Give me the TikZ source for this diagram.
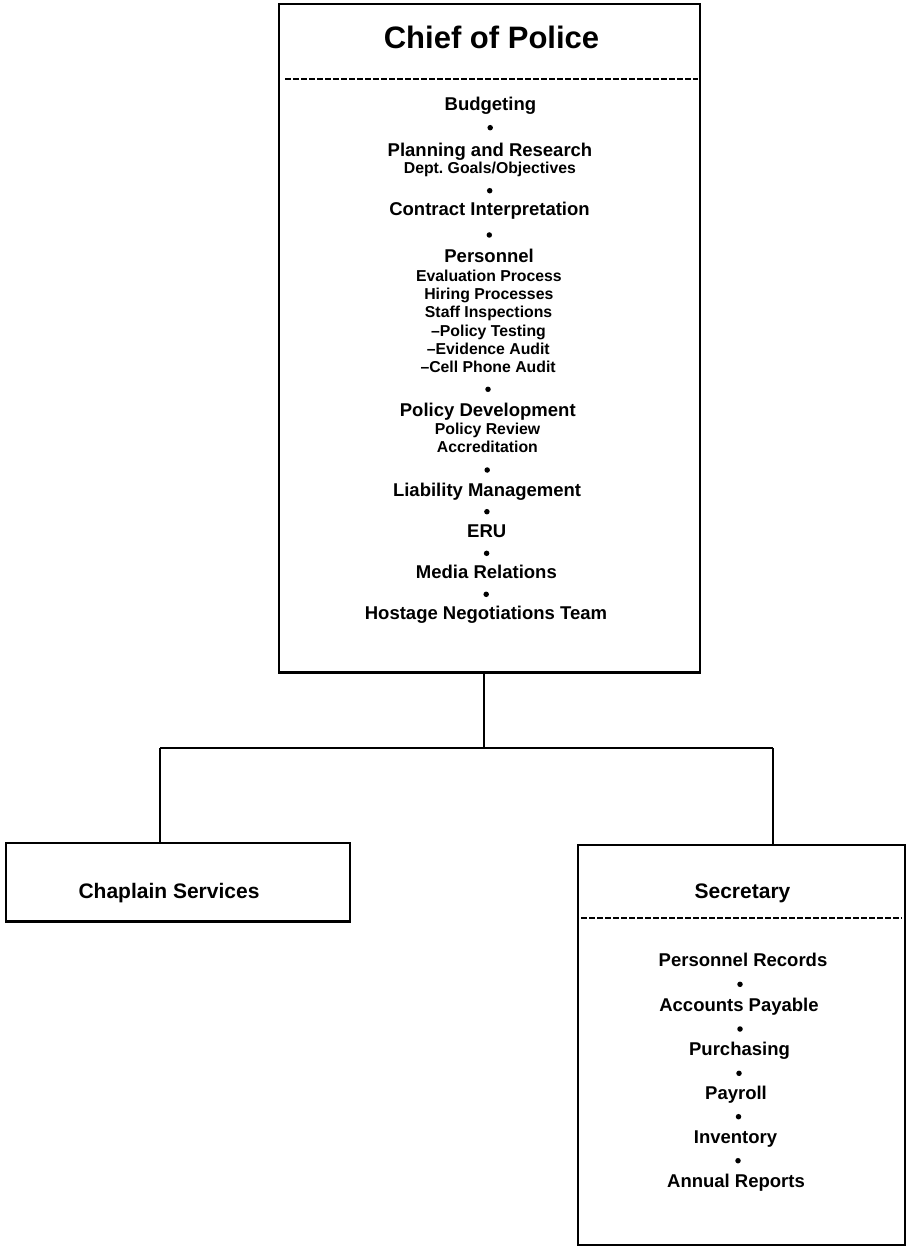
\documentclass[tikz,border=0pt]{standalone}
\usepackage{fontspec}
\setmainfont{Liberation Sans}
\begin{document}
\begin{tikzpicture}[x=1pt,y=-1pt,
  box/.style={draw, line width=2.2pt, inner sep=0pt},
  conn/.style={line width=1.6pt},
  dashline/.style={line width=2.6pt, dash pattern=on 6pt off 2pt},
  title/.style={font=\bfseries\fontsize{31}{31}\selectfont, inner sep=0pt, text height=22.2pt, text depth=0pt},
  head/.style={font=\bfseries\fontsize{21}{21}\selectfont, inner sep=0pt, text height=15pt, text depth=0pt},
  item/.style={font=\bfseries\fontsize{18.5}{18.5}\selectfont, inner sep=0pt, text height=13.25pt, text depth=0pt},
  sub/.style={font=\bfseries\fontsize{15.8}{15.8}\selectfont, inner sep=0pt, text height=11.3pt, text depth=0pt},
  dot/.style={circle, fill=black, inner sep=0pt, minimum size=5.5pt}
]
\useasboundingbox (0,0) rectangle (907,1249);

% boxes
\node[box, minimum width=421pt, minimum height=668.5pt] (chief) at (489.5,338.25) {};
\node[box, minimum width=344pt, minimum height=78.5pt] (chap) at (178,882.25) {};
\node[box, minimum width=327pt, minimum height=400pt] (sec) at (741.5,1045) {};

% dashed separators
\coordinate (d1a) at (285,79);
\coordinate (d1b) at (698,79);
\draw[dashline] (d1a) -- (d1b);
\coordinate (d2a) at (581,918);
\coordinate (d2b) at (902,918);
\draw[dashline] (d2a) -- (d2b);

% chief text
\node[title] (t0) at (491.5,37.5) {Chief of Police};
\node[item] (c1) at (490.4,104) {Budgeting};
\node[dot] (cb1) at (490.2,127.7) {};
\node[item] (c2) at (490,150) {Planning and Research};
\node[sub] (c2a) at (489.9,168) {Dept.\ Goals/Objectives};
\node[dot] (cb2) at (489.7,190.7) {};
\node[item] (c3) at (489.5,209) {Contract Interpretation};
\node[dot] (cb3) at (489.3,235) {};
\node[item] (c4) at (489.1,256) {Personnel};
\node[sub] (c4a) at (488.9,276) {Evaluation Process};
\node[sub] (c4b) at (488.8,294) {Hiring Processes};
\node[sub] (c4c) at (488.6,312) {Staff Inspections};
\node[sub] (c4d) at (488.5,330.5) {–Policy Testing};
\node[sub] (c4e) at (488.3,349) {–Evidence Audit};
\node[sub] (c4f) at (488.1,367) {–Cell Phone Audit};
\node[dot] (cb4) at (488,389.3) {};
\node[item] (c5) at (487.8,410) {Policy Development};
\node[sub] (c5a) at (487.6,428.5) {Policy Review};
\node[sub] (c5b) at (487.4,446.5) {Accreditation};
\node[dot] (cb5) at (487.2,470) {};
\node[item] (c6) at (487.1,490) {Liability Management};
\node[dot] (cb6) at (486.9,511.7) {};
\node[item] (c7) at (486.7,530.7) {ERU};
\node[dot] (cb7) at (486.6,553.3) {};
\node[item] (c8) at (486.4,572) {Media Relations};
\node[dot] (cb8) at (486.2,594.3) {};
\node[item] (c9) at (486,613) {Hostage Negotiations Team};

% chaplain
\node[head] (ch) at (169,891) {Chaplain Services};

% secretary
\node[head] (st) at (742.5,891) {Secretary};
\node[item] (s1) at (743,960.3) {Personnel Records};
\node[dot] (sb1) at (740,984.3) {};
\node[item] (s2) at (739,1005) {Accounts Payable};
\node[dot] (sb2) at (740,1029) {};
\node[item] (s3) at (739.5,1049) {Purchasing};
\node[dot] (sb3) at (739,1073.3) {};
\node[item] (s4) at (736,1093) {Payroll};
\node[dot] (sb4) at (738.5,1116.7) {};
\node[item] (s5) at (735.5,1137) {Inventory};
\node[dot] (sb5) at (738,1160.7) {};
\node[item] (s6) at (736,1181) {Annual Reports};

% connectors
\coordinate (jn) at (484,748);
\coordinate (jl) at (160,748);
\coordinate (jr) at (773,748);
\draw[conn] (chief.south -| jn) -- (jn);
\draw[conn] (jl) -- (jr);
\draw[conn] (jl) -- (jl |- chap.north);
\draw[conn] (jr) -- (jr |- sec.north);
\end{tikzpicture}
\end{document}
